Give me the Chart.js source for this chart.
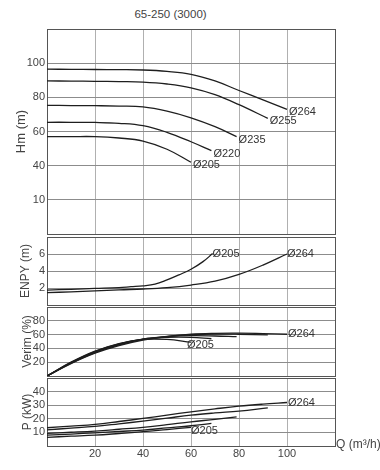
<!DOCTYPE html>
<html>
<head>
<meta charset="utf-8">
<script src="https://cdn.jsdelivr.net/npm/chart.js@4.4.1/dist/chart.umd.min.js"></script>
<style>
body { margin: 0; background: #fff; width: 380px; height: 470px; position: relative; overflow: hidden; font-family: "Liberation Sans", Arial, sans-serif; color: #444; }
canvas { position: absolute; left: 0; }
#titulo { position: absolute; left: 0; width: 341px; top: 8px; text-align: center; font-size: 11.5px; }
#ejeQ { position: absolute; left: 336px; top: 437px; font-size: 12px; white-space: nowrap; }
</style>
</head>
<body>
<div id="titulo">65-250 (3000)</div>
<canvas id="g1" width="380" height="229" style="top:17px"></canvas>
<canvas id="g2" width="380" height="92" style="top:225px"></canvas>
<canvas id="g3" width="380" height="93" style="top:295px"></canvas>
<canvas id="g4" width="380" height="104" style="top:366px"></canvas>
<div id="ejeQ">Q (m³/h)</div>
<script>
// Diámetros de rodete
const diametros = ['Ø264', 'Ø255', 'Ø235', 'Ø220', 'Ø205'];

// Caudal Q (m³/h) de cada curva
const q264 = [0, 10, 20, 30, 40, 50, 60, 70, 80, 90, 100];
const q255 = [0, 10, 20, 30, 40, 50, 60, 70, 80, 92];
const q235 = [0, 10, 20, 30, 40, 50, 60, 70, 79];
const q220 = [0, 10, 20, 30, 40, 50, 60, 68.5];
const q205 = [0, 10, 20, 30, 40, 50, 60];

// Altura Hm (m)
const hm264 = [96.5, 96.4, 96.3, 96.2, 96, 95.2, 93.5, 89.6, 84.0, 78.5, 73];
const hm255 = [89.6, 89.5, 89.4, 89.2, 88.9, 87.8, 85.6, 81.6, 75.7, 67.7];
const hm235 = [75.3, 75.2, 75.1, 74.9, 74.4, 71.9, 68, 62.8, 57];
const hm220 = [65.4, 65.4, 65.3, 64.8, 63.4, 59.5, 54, 48.8];
const hm205 = [57, 57, 57, 56.2, 54.4, 49.6, 42];

// ENPY (m)
const qEnpy205 = [0, 10, 20, 30, 35, 40, 45, 50, 55, 60, 65, 69];
const enpy205 = [1.75, 1.85, 1.95, 2.05, 2.15, 2.25, 2.45, 2.95, 3.55, 4.2, 5.1, 6.05];
const qEnpy264 = [0, 10, 20, 30, 40, 50, 60, 70, 80, 90, 100];
const enpy264 = [1.45, 1.55, 1.65, 1.78, 1.88, 2.05, 2.35, 2.8, 3.6, 4.7, 6.0];

// Verim (%)
const verim264 = [0, 18, 33, 44, 52, 57, 60.5, 61.8, 62, 61.5, 60.5];
const verim255 = [0, 18.5, 34, 45, 53, 57.5, 60, 60.8, 60.5, 59.5];
const verim235 = [0, 19, 35, 46, 53.5, 57, 58.5, 58, 57];
const verim220 = [0, 19.5, 35.5, 46.5, 53.5, 56, 56, 54];
const verim205 = [0, 20, 36, 47, 53, 53, 49];

// Potencia P (kW)
const p264 = [13.4, 14.6, 15.9, 18, 20.3, 22.7, 25.1, 27.3, 29.3, 30.8, 32];
const p255 = [11.9, 13.1, 14.4, 16.3, 18.3, 20.5, 22.7, 24.3, 25.6, 28];
const p235 = [9.3, 10.1, 11, 12.3, 13.7, 15.7, 17.8, 19.6, 21.4];
const p220 = [8, 8.8, 9.7, 10.7, 11.7, 13.3, 14.9, 16.6];
const p205 = [6.4, 7.2, 8, 9.2, 10.5, 12.1, 13.7];

// Marcas de los ejes
const qMarcas = [20, 40, 60, 80, 100];
const hmMarcas = [20, 40, 60, 80, 100];
const hmTextos = ['10', '40', '60', '80', '100'];
const enpyMarcas = [2, 4, 6];
const verimMarcas = [20, 40, 60, 80];
const pMarcas = [10, 20, 30, 40];

const fuenteNum = { family: '"Liberation Sans Narrow", "Liberation Sans", sans-serif', size: 11 };
const fuenteTit = { family: '"Liberation Sans", sans-serif', size: 12 };

// Texto de diámetro al final de una curva
const etiquetasPlugin = {
    id: 'etiquetas',
    afterDatasetsDraw(chart, args, opts) {
        const { ctx } = chart;
        const x = chart.scales.x, y = chart.scales.y;
        ctx.save();
        ctx.font = '11px "Liberation Sans Narrow", "Liberation Sans", sans-serif';
        ctx.fillStyle = '#333';
        ctx.textBaseline = 'middle';
        (opts.lista || []).forEach(e => {
            const datos = chart.data.datasets[e.serie].data;
            const p = datos[datos.length - 1];
            ctx.fillText(e.texto, x.getPixelForValue(p.x) + e.dx, y.getPixelForValue(p.y) + e.dy);
        });
        ctx.restore();
    }
};

function serie(q, v) {
    return {
        data: q.map((qq, i) => ({ x: qq, y: v[i] })),
        borderColor: '#1e1e1e',
        borderWidth: 1.3,
        pointRadius: 0,
        fill: false,
        tension: 0.4
    };
}

function crearPanel(id, datasets, eje, etiquetas, inferior) {
    return new Chart(document.getElementById(id), {
        type: 'line',
        data: { datasets: datasets },
        options: {
            responsive: false,
            animation: false,
            layout: { padding: { top: 12, bottom: inferior ? 4 : 12, left: 0, right: 45 } },
            plugins: { legend: { display: false }, tooltip: { enabled: false }, etiquetas: { lista: etiquetas } },
            scales: {
                x: {
                    type: 'linear', min: 0, max: 120,
                    ticks: {
                        stepSize: 20, display: inferior, padding: 1, color: '#444', font: fuenteNum,
                        autoSkip: false, maxRotation: 0,
                        callback: v => qMarcas.includes(v) ? String(v) : ''
                    },
                    grid: { drawTicks: false, color: c => (c.tick && (c.tick.value === 0 || c.tick.value === 120)) ? '#555' : '#b0b0b0' },
                    border: { color: '#555' },
                    afterFit: s => { s.height = inferior ? 20 : 0; }
                },
                y: {
                    type: 'linear', min: eje.min, max: eje.max,
                    ticks: {
                        stepSize: eje.paso, padding: 2, color: '#444', font: fuenteNum, autoSkip: false,
                        callback: v => {
                            const i = eje.marcas.indexOf(v);
                            return i >= 0 ? eje.textos[i] : '';
                        }
                    },
                    grid: { drawTicks: false, color: c => (c.tick && (c.tick.value === eje.min || c.tick.value === eje.max)) ? '#555' : '#8c8c8c' },
                    border: { color: '#555' },
                    title: { display: true, text: eje.titulo, color: '#444', font: eje.fuente, padding: { top: eje.pad, bottom: 0 } },
                    afterFit: s => { s.width = 47; }
                }
            }
        },
        plugins: [etiquetasPlugin]
    });
}

crearPanel('g1',
    [serie(q264, hm264), serie(q255, hm255), serie(q235, hm235), serie(q220, hm220), serie(q205, hm205)],
    { min: 0, max: 120, paso: 20, marcas: hmMarcas, textos: hmTextos, titulo: 'Hm (m)', fuente: { family: fuenteTit.family, size: 13 }, pad: 14 },
    diametros.map((t, i) => ({ serie: i, texto: t, dx: 2, dy: 3 })),
    false);

crearPanel('g2',
    [serie(qEnpy205, enpy205), serie(qEnpy264, enpy264)],
    { min: 0, max: 8, paso: 2, marcas: enpyMarcas, textos: enpyMarcas.map(String), titulo: 'ENPY (m)', fuente: fuenteTit, pad: 18 },
    [{ serie: 0, texto: diametros[4], dx: 0, dy: 0 }, { serie: 1, texto: diametros[0], dx: 0, dy: 0 }],
    false);

crearPanel('g3',
    [serie(q264, verim264), serie(q255, verim255), serie(q235, verim235), serie(q220, verim220), serie(q205, verim205)],
    { min: 0, max: 100, paso: 20, marcas: verimMarcas, textos: verimMarcas.map(String), titulo: 'Verim (%)', fuente: fuenteTit, pad: 20 },
    [{ serie: 0, texto: diametros[0], dx: 1, dy: 0 }, { serie: 4, texto: diametros[4], dx: -4, dy: 3 }],
    false);

crearPanel('g4',
    [serie(q264, p264), serie(q255, p255), serie(q235, p235), serie(q220, p220), serie(q205, p205)],
    { min: 0, max: 50, paso: 10, marcas: pMarcas, textos: pMarcas.map(String), titulo: 'P (kW)', fuente: fuenteTit, pad: 20 },
    [{ serie: 0, texto: diametros[0], dx: 1, dy: 0 }, { serie: 4, texto: diametros[4], dx: 0, dy: 4 }],
    true);
</script>
</body>
</html>
